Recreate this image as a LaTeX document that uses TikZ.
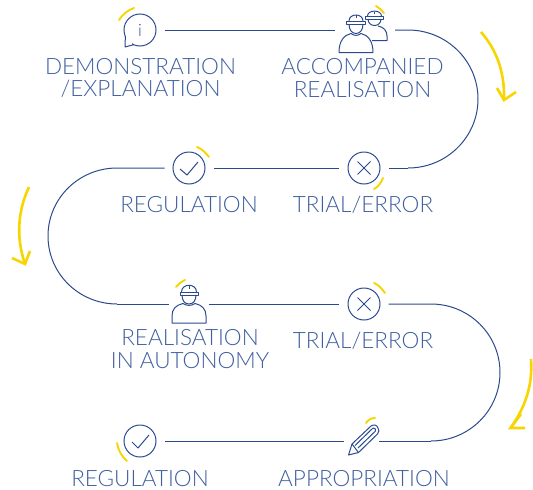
\documentclass[tikz,border=0pt]{standalone}
\usepackage{fontspec}
\setmainfont{Lato Light}
\definecolor{navy}{HTML}{2B4A8E}
\definecolor{txt}{HTML}{3F5F9F}
\definecolor{sun}{HTML}{F7D500}
\tikzset{
 line/.style={navy,line width=1pt},
 icon/.style={navy,line width=1pt,line join=round},
 glow/.style={sun,line width=1.9pt,line cap=round},
 flow/.style={sun,line width=2.6pt,line join=miter},
 lab/.style={txt,font=\fontsize{22.5}{22.5}\selectfont,align=center,inner sep=0pt,anchor=center},
 hub/.style={circle,inner sep=0pt,minimum size=32pt,draw=navy,line width=1pt},
 box/.style={inner sep=0pt,minimum width=38pt,minimum height=32pt},
}
\begin{document}
\begin{tikzpicture}[x=1pt,y=-1pt]
\useasboundingbox (0,0) rectangle (533,490);
% icon holders
\node[hub] (info) at (140,30) {\textcolor{navy}{\fontsize{17}{17}\selectfont i}};
\node[box,minimum width=50pt] (acc) at (361,30) {};
\node[hub] (reg1) at (189,168) {};
\node[hub] (tri1) at (364,168) {};
\node[box] (aut) at (189,304) {};
\node[hub] (tri2) at (364,304) {};
\node[hub] (reg2) at (140,441) {};
\node[box,minimum width=34pt] (pen) at (362,441) {};
% coordinates of the bends
\coordinate (c1a) at (408,30);
\coordinate (c1c) at (408,168);
\coordinate (c2a) at (117,168);
\coordinate (c2c) at (117,304);
\coordinate (c3a) at (431,304);
\coordinate (c3c) at (431,441);
% connectors
\draw[line,shorten <=8pt,shorten >=1pt] (info.east) -- (acc.west);
\draw[line,shorten <=9pt] (acc.east) -- (c1a) arc[start angle=90,end angle=-90,x radius=70,y radius=-69];
\draw[line,shorten >=8pt] (c1c) -- (tri1.east);
\draw[line,shorten <=9pt,shorten >=8pt] (tri1.west) -- (reg1.east);
\draw[line,shorten <=8pt] (reg1.west) -- (c2a) arc[start angle=90,end angle=270,x radius=69,y radius=-68];
\draw[line,shorten >=1pt] (c2c) -- (aut.west);
\draw[line,shorten <=1pt,shorten >=9pt] (aut.east) -- (tri2.west);
\draw[line,shorten <=8pt] (tri2.east) -- (c3a) arc[start angle=90,end angle=-90,x radius=69,y radius=-68.5];
\draw[line] (c3c) -- (pen.east);
\draw[line,shorten <=1pt,shorten >=8pt] (pen.west) -- (reg2.east);
% info tail
\fill[white] (125,36) rectangle (132,47);
\draw[icon] (125.4,36) -- (125,47) -- (134,44.6);
% checks and crosses
\draw[icon] (180,169) -- (187,175) -- (198,162);
\draw[icon] (132,442) -- (138,448) -- (149,435);
\foreach \p in {tri1,tri2}{
 \draw[icon] ([shift={(-6.5,-6.5)}]\p.center) -- ([shift={(6.5,6.5)}]\p.center);
 \draw[icon] ([shift={(-6.5,6.5)}]\p.center) -- ([shift={(6.5,-6.5)}]\p.center);
}
% back worker
\draw[icon] (378,26) .. controls (384,27) and (387,31) .. (387,36) -- (387,40.5) -- (372,40.5);
\draw[icon] (368,19) .. controls (368,23) and (371,25.5) .. (374.5,25.5) .. controls (378,25.5) and (381,23) .. (381,19);
\draw[icon] (367.5,16) .. controls (367.5,9.5) and (381.5,9.5) .. (381.5,16);
\draw[icon] (365.5,16) rectangle (383.5,19);
\draw[icon] (374.5,12) -- (374.5,14);
% front worker
\draw[icon,fill=white] (339,52.5) .. controls (339,41) and (344,35) .. (351,33.5) .. controls (354,36) and (358,36) .. (361,33.5) .. controls (368,35) and (373,41) .. (373,52.5) -- cycle;
\draw[icon,fill=white] (349,24) .. controls (349,30) and (352,33.5) .. (356,33.5) .. controls (360,33.5) and (363,30) .. (363,24);
\draw[icon,fill=white] (349,21) .. controls (349,13) and (363,13) .. (363,21);
\draw[icon,fill=white] (346.5,21) rectangle (365.5,24);
\draw[icon] (356,15) -- (356,18);
% autonomous worker
\draw[icon] (172,323) -- (172,316) .. controls (172,309) and (176,305) .. (183,303.5) .. controls (186,306) and (192,306) .. (195,303.5) .. controls (202,305) and (206,309) .. (206,316) -- (206,323) -- cycle;
\draw[icon] (182,295) .. controls (182,301) and (185,304) .. (189,304) .. controls (193,304) and (196,301) .. (196,295);
\draw[icon] (181.5,292) .. controls (181.5,283) and (196.5,283) .. (196.5,292);
\draw[icon] (180,292) rectangle (198,295);
\draw[icon] (189,286) -- (189,289);
% pencil
\draw[icon] (348.5,455) -- (352,444) -- (371,426) .. controls (374,424) and (377,425) .. (378,428) .. controls (379.5,430) and (379,432) .. (377.5,434) -- (358.5,452.5) -- cycle;
\draw[icon] (352,444) -- (358.5,452.5);
\draw[icon] (355,445.5) -- (373,428) .. controls (375,428) and (376,429) .. (375.5,431) -- (358,448);
% yellow glints
\draw[glow] (119,20) .. controls (123,14) and (128,10) .. (134,8);
\draw[glow] (376,6) .. controls (379,8) and (382,10) .. (384,13);
\draw[glow] (197,147) .. controls (202,149) and (206,153) .. (209,157);
\draw[glow] (374,189) .. controls (378,187) and (381,183) .. (383,178);
\draw[glow] (176,287) .. controls (178,284) and (181,282) .. (185,280);
\draw[glow] (374,283) .. controls (379,285) and (382,289) .. (385,293);
\draw[glow] (117,443) .. controls (118,450) and (122,457) .. (127,461);
\draw[glow] (366,423) .. controls (368,420) and (371,418) .. (375,418);
% yellow flow arrows
\draw[flow] (481,32) .. controls (495,48) and (505,70) .. (504,100);
\draw[flow] (497,88) -- (504,100) -- (516,92);
\draw[flow] (29,187) .. controls (19,208) and (15,235) .. (25,264);
\draw[flow] (12,258) -- (25,264) -- (30,251);
\draw[flow] (531,359) .. controls (533,385) and (525,408) .. (510.5,428);
\draw[flow] (521,414) -- (510.5,428) -- (525,428);
% labels
\node[lab] (t1) at (140.5,78) {DEMONSTRATION\\/EXPLANATION};
\node[lab] (t2) at (362.5,78) {ACCOMPANIED\\REALISATION};
\node[lab] (t3) at (189,205) {REGULATION};
\node[lab] (t4) at (363,205) {TRIAL/ERROR};
\node[lab] (t5) at (190,349) {REALISATION\\IN AUTONOMY};
\node[lab] (t6) at (363,341) {TRIAL/ERROR};
\node[lab] (t7) at (140,478.5) {REGULATION};
\node[lab] (t8) at (364,478.5) {APPROPRIATION};
\end{tikzpicture}
\end{document}
